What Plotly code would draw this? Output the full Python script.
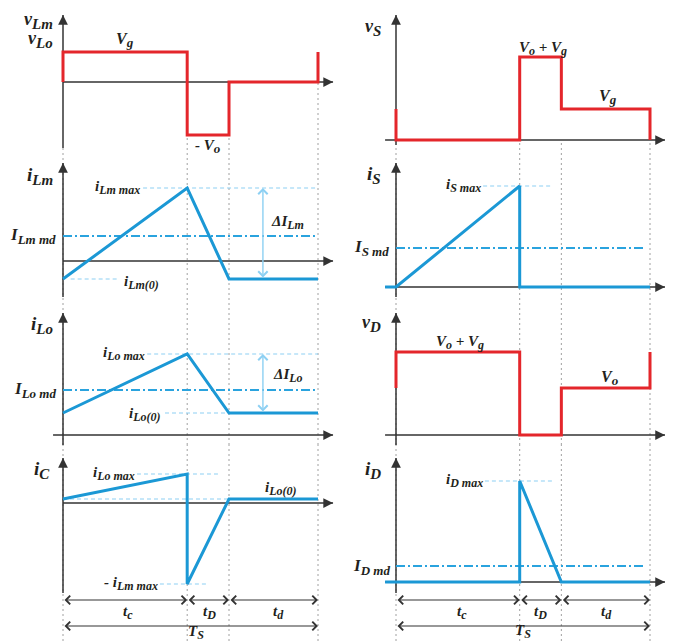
import plotly.graph_objects as go

# page is rendered with an 8 px body margin: the figure is shrunk and shifted to compensate
PAGE_W, PAGE_H = 674, 641
OFF = 8
W, H = PAGE_W - OFF, PAGE_H - OFF

# ---------------- data (time normalised to T_S) ----------------
t_c = 0.487          # end of conduction interval t_c
t_cD = 0.651         # end of t_D interval
T_s = 1.0            # switching period
t_pre = -0.043       # current traces of the right column start slightly before t = 0
t_md_end_L = 0.988   # end of the mean-value lines (left column)
t_md_end_R = 0.984   # end of the mean-value lines (right column)

V_g = 3.0
V_o = 5.3
t_vL = [0, 0, t_c, t_c, t_cD, t_cD, T_s, T_s]
v_L = [0, V_g, V_g, -V_o, -V_o, 0, 0, V_g]

t_iLm = [0, t_c, t_cD, T_s]
i_Lm = [-1.8, 7.3, -1.8, -1.8]
ILm_md = 2.5

t_iLo = [0, t_c, t_cD, T_s]
i_Lo = [2.2, 8.1, 2.2, 2.2]
ILo_md = 4.5

t_iC = [0, t_c, t_c, t_cD, T_s]
i_C = [0.4, 2.9, -8.1, 0.4, 0.4]

t_vS = [0, 0, t_c, t_c, t_cD, t_cD, T_s, T_s]
v_S = [3.1, 0, 0, 8.3, 8.3, 3.1, 3.1, 0]

t_iS = [t_pre, 0, t_c, t_c, T_s]
i_S = [0, 0, 10.1, 0, 0]
IS_md = 3.9

t_vD = [0, 0, t_c, t_c, t_cD, t_cD, T_s, T_s]
v_D = [4.7, 8.3, 8.3, 0, 0, 4.7, 4.7, 8.3]

t_iD = [t_pre, t_c, t_c, t_cD, T_s]
i_D = [0, 0, 10.1, 0, 0]
ID_md = 1.6

# ---------------- style ----------------
RED = '#e4262b'
BLUE = '#1b98d5'
MEAN = '#2aa3de'
LIGHT = '#8dd0f3'
AXC = '#333333'
GUIDE = '#a0a0a0'
TXT = '#231f20'
FONT = 'Liberation Serif'

fig = go.Figure()

col_page = {'L': (OFF, 337), 'R': (337, PAGE_W)}
col_px = {'L': (63, 255), 'R': (396, 254)}
PPU = 10.0

panels = {
    1: dict(col='L', row=(OFF, 150), zero=82, yb=-6.6, yt=6.7, xs=0),
    2: dict(col='L', row=(150, 300), zero=261, yb=-3.6, yt=9.8, xs=0),
    3: dict(col='L', row=(300, 445), zero=435, yb=-1.0, yt=12.2, xs=-0.039),
    4: dict(col='L', row=(445, PAGE_H), zero=503, yb=-9.0, yt=4.5, xs=0),
    5: dict(col='R', row=(OFF, 150), zero=140, yb=-0.5, yt=12.5, xs=-0.043),
    6: dict(col='R', row=(150, 300), zero=287, yb=-1.0, yt=12.4, xs=-0.043),
    7: dict(col='R', row=(300, 445), zero=435, yb=-1.2, yt=12.2, xs=-0.043),
    8: dict(col='R', row=(445, PAGE_H), zero=582, yb=-1.1, yt=12.4, xs=-0.043),
}
X_TIP = 1.059


def sfx(k):
    return '' if k == 1 else str(k)


layout_axes = {}
for k, p in panels.items():
    x0px, sc = col_px[p['col']]
    pl, pr = col_page[p['col']]
    dom = [(pl - OFF) / W, (pr - OFF) / W]
    xr = [(pl - x0px) / sc, (pr - x0px) / sc]
    top, bot = p['row']
    yr = [(p['zero'] - bot) / PPU, (p['zero'] - top) / PPU]
    p['yr'] = yr
    layout_axes['xaxis' + sfx(k)] = dict(domain=dom, range=xr, visible=False,
                                         fixedrange=True, anchor='y' + sfx(k))
    layout_axes['yaxis' + sfx(k)] = dict(domain=[1 - (bot - OFF) / H, 1 - (top - OFF) / H],
                                         range=yr, visible=False, fixedrange=True,
                                         anchor='x' + sfx(k))


def line(k, x, y, color, width, dash='solid'):
    fig.add_trace(go.Scatter(x=x, y=y, mode='lines',
                             line=dict(color=color, width=width, dash=dash),
                             xaxis='x' + sfx(k), yaxis='y' + sfx(k),
                             showlegend=False, hoverinfo='skip'))


def arrow(k, x, y, ax, ay, color, width, head, size, both=False):
    s = sfx(k)
    fig.add_annotation(xref='x' + s, yref='y' + s, axref='x' + s, ayref='y' + s,
                       x=x, y=y, ax=ax, ay=ay, text='', showarrow=True,
                       arrowhead=head, startarrowhead=head, arrowsize=size,
                       startarrowsize=size, arrowwidth=width, arrowcolor=color,
                       arrowside='end+start' if both else 'end',
                       font=dict(size=1))


def sub(text, px):
    return "<sub><span style='font-size:%dpx'>%s</span></sub>" % (px, text)


def label(k, text, x, y, size=13, xanchor='center'):
    s = sfx(k)
    fig.add_annotation(xref='x' + s, yref='y' + s, x=x, y=y, text='<b><i>' + text + '</i></b>',
                       showarrow=False, xanchor=xanchor, yanchor='middle',
                       font=dict(family=FONT, size=size, color=TXT))


# ---------------- guides (dotted verticals) ----------------
guide_t = [0, t_c, t_cD, T_s]
for k, p in panels.items():
    lo, hi = p['yr']
    for t in guide_t:
        if k == 1:
            top = {0: p['yb'], t_c: -V_o, t_cD: -V_o, T_s: 0}[t]
        elif k == 5:
            top = p['yb'] if t == 0 else 0
        else:
            top = hi
        line(k, [t, t], [lo, top], GUIDE, 1, '2px,3px')

# ---------------- axes (lines as traces, heads as annotations) ----------------
for k, p in panels.items():
    line(k, [p['xs'], X_TIP], [0, 0], AXC, 1.5)
    line(k, [0, 0], [p['yb'], p['yt']], AXC, 1.5)
    arrow(k, X_TIP, 0, X_TIP - 0.03, 0, AXC, 1.5, 2, 1.3)
    arrow(k, 0, p['yt'], 0, p['yt'] - 0.8, AXC, 1.5, 2, 1.3)

# ---------------- reference lines ----------------
DASH = '4px,3px'
DDOT = '9px,3px,2px,3px'
line(2, [0.314, T_s], [max(i_Lm)] * 2, LIGHT, 1.2, DASH)
line(2, [0.03, 0.22], [min(i_Lm)] * 2, LIGHT, 1.2, DASH)
line(2, [0, t_md_end_L], [ILm_md] * 2, MEAN, 2, DDOT)

line(3, [0.33, T_s], [max(i_Lo)] * 2, LIGHT, 1.2, DASH)
line(3, [0.40, T_s], [min(i_Lo)] * 2, LIGHT, 1.2, DASH)
line(3, [0, t_md_end_L], [ILo_md] * 2, MEAN, 2, DDOT)

line(4, [0.29, 0.608], [i_C[1]] * 2, LIGHT, 1.2, DASH)
line(4, [0.38, 0.569], [i_C[2]] * 2, LIGHT, 1.2, DASH)
line(4, [0, t_cD], [i_C[0]] * 2, LIGHT, 1.2, DASH)

line(6, [0.343, 0.618], [max(i_S)] * 2, LIGHT, 1.2, DASH)
line(6, [0, t_md_end_R], [IS_md] * 2, MEAN, 2, DDOT)

line(8, [0.35, 0.618], [max(i_D)] * 2, LIGHT, 1.2, DASH)
line(8, [0, t_md_end_R], [ID_md] * 2, MEAN, 2, DDOT)

# ---------------- waveforms ----------------
line(1, t_vL, v_L, RED, 3)
line(2, t_iLm, i_Lm, BLUE, 3)
line(3, t_iLo, i_Lo, BLUE, 3)
line(4, t_iC, i_C, BLUE, 3)
line(5, t_vS, v_S, RED, 3)
line(6, t_iS, i_S, BLUE, 3)
line(7, t_vD, v_D, RED, 3)
line(8, t_iD, i_D, BLUE, 3)

# ---------------- delta arrows ----------------
arrow(2, 0.784, max(i_Lm), 0.784, min(i_Lm), LIGHT, 1.4, 4, 1.3, both=True)
arrow(3, 0.784, max(i_Lo), 0.784, min(i_Lo), LIGHT, 1.4, 4, 1.3, both=True)

# ---------------- time arrows ----------------
for k, y1, y2 in [(4, -9.7, -12.3), (8, -1.8, -4.4)]:
    for a, b in [(0, t_c), (t_c, t_cD), (t_cD, T_s)]:
        arrow(k, b, y1, a, y1, AXC, 1.2, 4, 1.4, both=True)
    arrow(k, T_s, y2, 0, y2, AXC, 1.2, 4, 1.4, both=True)

# ---------------- labels ----------------
AX, AXS = 18, 15   # axis names (main, subscript)
VL, VLS = 15, 12   # value labels
MD, MDS = 17, 13   # mean labels
TL, TLS = 15, 12   # time labels

label(1, 'v' + sub('Lm', AXS), -0.031, 6.2, AX, 'right')
label(1, 'v' + sub('Lo', AXS), -0.031, 4.3, AX, 'right')
label(1, 'V' + sub('g', 13), 0.243, 4.2, 16)
label(1, '- V' + sub('o', 13), 0.569, -6.4, 15)

label(2, 'i' + sub('Lm', AXS), -0.031, 8.5, AX + 1, 'right')
label(2, 'i' + sub('Lm max', VLS), 0.31, 7.4, VL, 'right')
label(2, 'I' + sub('Lm md', MDS), -0.02, 2.5, MD, 'right')
label(2, 'i' + sub('Lm(0)', VLS), 0.231, -2.1, VL, 'left')
label(2, 'ΔI' + sub('Lm', VLS), 0.882, 3.9, VL)

label(3, 'i' + sub('Lo', AXS), -0.031, 11.0, AX + 1, 'right')
label(3, 'i' + sub('Lo max', VLS), 0.33, 8.2, VL, 'right')
label(3, 'I' + sub('Lo md', MDS), -0.02, 4.5, MD, 'right')
label(3, 'i' + sub('Lo(0)', VLS), 0.25, 2.1, VL, 'left')
label(3, 'ΔI' + sub('Lo', VLS), 0.882, 6.0, VL)

label(4, 'i' + sub('C', AXS), -0.043, 3.3, AX + 1, 'right')
label(4, 'i' + sub('Lo max', VLS), 0.29, 3.0, VL, 'right')
label(4, '- i' + sub('Lm max', VLS), 0.38, -8.0, VL, 'right')
label(4, 'i' + sub('Lo(0)', VLS), 0.855, 1.5, VL)
label(4, 't' + sub('c', TLS), 0.255, -10.9, TL)
label(4, 't' + sub('D', TLS), 0.576, -10.9, TL)
label(4, 't' + sub('d', TLS), 0.847, -10.9, TL)
label(4, 'T' + sub('S', TLS), 0.522, -12.9, TL)

label(5, 'v' + sub('S', AXS), -0.051, 11.3, AX, 'right')
label(5, 'V' + sub('o', 12) + ' + V' + sub('g', 12), 0.579, 9.2, 15)
label(5, 'V' + sub('g', 13), 0.835, 4.3, 16)

label(6, 'i' + sub('S', AXS), -0.051, 11.2, AX + 1, 'right')
label(6, 'i' + sub('S max', VLS), 0.343, 10.2, VL, 'right')
label(6, 'I' + sub('S md', MDS), -0.02, 3.9, MD, 'right')

label(7, 'v' + sub('D', AXS), -0.051, 11.2, AX, 'right')
label(7, 'V' + sub('o', 12) + ' + V' + sub('g', 12), 0.252, 9.3, 15)
label(7, 'V' + sub('o', 13), 0.843, 5.7, 16)

label(8, 'i' + sub('D', AXS), -0.051, 11.2, AX + 1, 'right')
label(8, 'i' + sub('D max', VLS), 0.35, 10.2, VL, 'right')
label(8, 'I' + sub('D md', MDS), -0.016, 1.5, MD, 'right')
label(8, 't' + sub('c', TLS), 0.26, -3.0, TL)
label(8, 't' + sub('D', TLS), 0.567, -3.0, TL)
label(8, 't' + sub('d', TLS), 0.83, -3.0, TL)
label(8, 'T' + sub('S', TLS), 0.5, -4.9, TL)

fig.update_layout(width=W, height=H, margin=dict(l=0, r=0, t=0, b=0),
                  paper_bgcolor='white', plot_bgcolor='rgba(0,0,0,0)',
                  showlegend=False, **layout_axes)

fig.write_html('out.html')
